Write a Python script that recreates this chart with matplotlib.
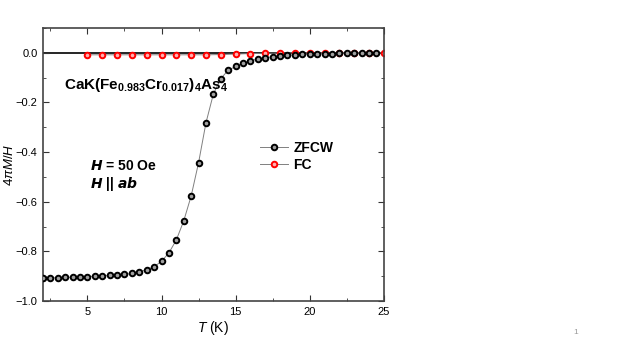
import matplotlib.pyplot as plt
import numpy as np
from matplotlib.ticker import MultipleLocator

plt.rcParams['font.family'] = ['Liberation Sans', 'DejaVu Sans']
plt.rcParams['mathtext.fontset'] = 'custom'
plt.rcParams['mathtext.rm'] = 'Liberation Sans'
plt.rcParams['mathtext.it'] = 'Liberation Sans:italic'
plt.rcParams['mathtext.bf'] = 'Liberation Sans:bold'

# ZFCW data, 0.5 K steps
t_zfcw = [2, 2.5, 3, 3.5, 4, 4.5, 5, 5.5, 6, 6.5, 7, 7.5, 8, 8.5, 9, 9.5,
          10, 10.5, 11, 11.5, 12, 12.5, 13, 13.5, 14, 14.5, 15, 15.5, 16,
          16.5, 17, 17.5, 18, 18.5, 19, 19.5, 20, 20.5, 21, 21.5, 22, 22.5,
          23, 23.5, 24, 24.5]
m_zfcw = [-0.908, -0.907, -0.906, -0.905, -0.904, -0.903, -0.902, -0.900,
          -0.899, -0.897, -0.895, -0.893, -0.889, -0.883, -0.874, -0.862,
          -0.840, -0.806, -0.754, -0.677, -0.577, -0.443, -0.282, -0.166,
          -0.104, -0.070, -0.055, -0.042, -0.032, -0.025, -0.020, -0.016,
          -0.012, -0.010, -0.008, -0.006, -0.005, -0.004, -0.003, -0.003,
          -0.002, -0.002, -0.001, -0.001, -0.001, 0.0]

# FC data, 1 K steps
t_fc = [5, 6, 7, 8, 9, 10, 11, 12, 13, 14, 15, 16, 17, 18, 19, 20, 21, 22,
        23, 24, 25]
m_fc = [-0.008, -0.008, -0.008, -0.008, -0.008, -0.008, -0.008, -0.008,
        -0.008, -0.007, -0.005, -0.003, -0.002, -0.001, 0.0, 0.0, 0.0, 0.0,
        0.0, 0.0, 0.0]

fig = plt.figure(figsize=(6.23, 3.5), dpi=100)
ax = fig.add_axes([0.069, 0.14, 0.547, 0.78])

ax.axhline(0, color='black', lw=1.2, zorder=1)
ax.plot(t_fc, m_fc, '-o', color='gray', lw=0.7, ms=4, mfc='#ffb0b0',
        mec='red', mew=1.4, label='FC', zorder=2)
ax.plot(t_zfcw, m_zfcw, '-o', color='gray', lw=0.7, ms=4, mfc='#a0a0a0',
        mec='black', mew=1.4, label='ZFCW', zorder=3)

ax.set_xlim(2, 25)
ax.set_ylim(-1.0, 0.1)
ax.xaxis.set_major_locator(MultipleLocator(5))
ax.xaxis.set_minor_locator(MultipleLocator(2.5))
ax.yaxis.set_major_locator(MultipleLocator(0.2))
ax.yaxis.set_minor_locator(MultipleLocator(0.1))
ax.tick_params(which='both', direction='in', top=True, right=True,
               labelsize=8, colors='#333333', labelcolor='black')
ax.tick_params(which='major', length=4, pad=4)
ax.tick_params(which='minor', length=2.5)
for s in ax.spines.values():
    s.set_color('#444444')
    s.set_linewidth(1.2)

ax.set_xlabel(r'$\it{T}$ (K)', fontsize=10, labelpad=2)
ax.set_ylabel(r'4$\pi$$\it{M}$/$\it{H}$', fontsize=9.5)
ax.yaxis.set_label_coords(-0.078, 0.5)

ax.text(3.4, -0.13,
        r'CaK(Fe$_{\mathbf{0.983}}$Cr$_{\mathbf{0.017}}$)$_{\mathbf{4}}$As$_{\mathbf{4}}$',
        fontsize=11, fontweight='bold', va='center')
ax.text(5.2, -0.455, r'$\mathbfit{H}$ = 50 Oe', fontsize=10,
        fontweight='bold', va='center')
ax.text(5.2, -0.53, r'$\mathbfit{H}$ || $\mathbfit{ab}$', fontsize=10,
        fontweight='bold', va='center')

handles, labels = ax.get_legend_handles_labels()
ax.legend(handles[::-1], labels[::-1], loc='center left',
          bbox_to_anchor=(0.6, 0.53), frameon=False, handlelength=2,
          handletextpad=0.4, labelspacing=0.2, prop={'weight': 'bold', 'size': 10})

fig.text(0.92, 0.045, '1', fontsize=6, color='#999999')

fig.savefig('out.png', dpi=100)
